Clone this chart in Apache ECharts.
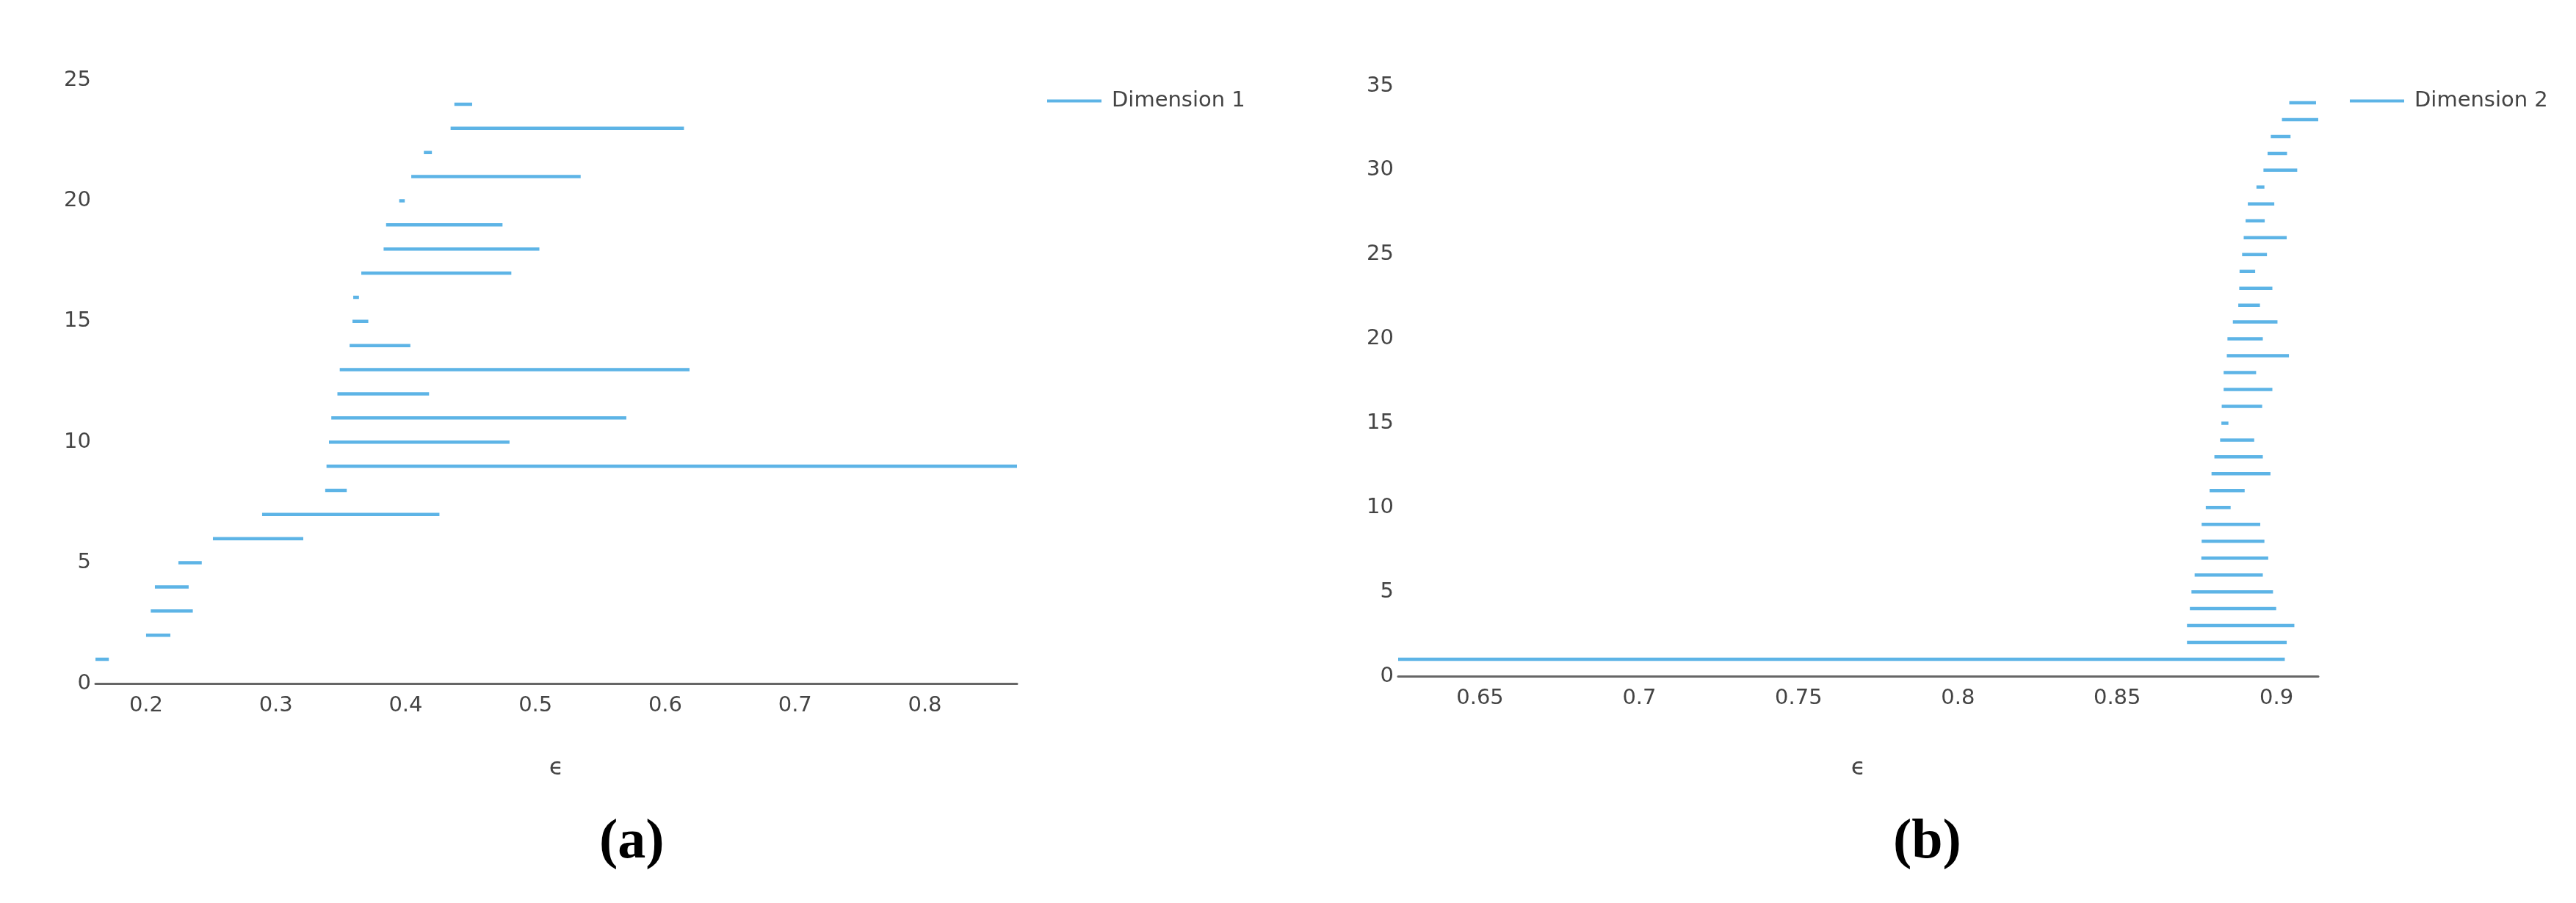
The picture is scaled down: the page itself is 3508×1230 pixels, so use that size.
<!DOCTYPE html>
<html>
<head>
<meta charset="utf-8">
<script src="https://cdn.jsdelivr.net/npm/echarts@6/dist/echarts.min.js"></script>
<style>
html,body{margin:0;padding:0;background:#fff;}
#c{width:3508px;height:1230px;}
</style>
</head>
<body>
<div id="c"></div>
<script>
// Dimension 1 (panel a): interval index, start and end of each interval
const dim1Index = [1,2,3,4,5,6,7,8,9,10,11,12,13,14,15,16,17,18,19,20,21,22,23,24];
const dim1Start = [0.161,0.2000,0.2036,0.2068,0.2249,0.2515,0.2894,0.3380,0.3390,0.3409,0.3427,0.3474,0.3492,0.3568,0.3590,0.3596,0.3658,0.3830,0.3849,0.3950,0.4043,0.4140,0.4346,0.4375];
const dim1End   = [0.1713,0.2187,0.2360,0.2328,0.2429,0.3211,0.4260,0.3546,0.871,0.4800,0.5700,0.4180,0.6187,0.4036,0.3712,0.3640,0.4814,0.5030,0.4746,0.3993,0.5348,0.4202,0.6144,0.4512];

// Dimension 2 (panel b)
const dim2Index = [1,2,3,4,5,6,7,8,9,10,11,12,13,14,15,16,17,18,19,20,21,22,23,24,25,26,27,28,29,30,31,32,33,34];
const dim2Start = [0.6243,0.8719,0.8719,0.8728,0.8733,0.8743,0.8764,0.8765,0.8765,0.8778,0.8790,0.8796,0.8805,0.8823,0.8827,0.8828,0.8834,0.8834,0.8844,0.8846,0.8863,0.8880,0.8883,0.8884,0.8892,0.8897,0.8903,0.8910,0.8937,0.8959,0.8972,0.8982,0.9017,0.9040];
const dim2End   = [0.9026,0.9032,0.9056,0.8999,0.8989,0.8957,0.8974,0.8962,0.8949,0.8856,0.8900,0.8981,0.8957,0.8930,0.8849,0.8955,0.8987,0.8936,0.9039,0.8957,0.9003,0.8948,0.8987,0.8933,0.8970,0.9032,0.8963,0.8993,0.8962,0.9065,0.9033,0.9044,0.9131,0.9124];

const axisA = {min: 0.161, max: 0.871, yMax: 25};
const axisB = {min: 0.6243, max: 0.9131, yMax: 35};

function segData(idx, s, e) {
  const out = [];
  for (let i = 0; i < idx.length; i++) {
    out.push([s[i], idx[i]], [e[i], idx[i]], '-');
  }
  return out;
}

const FONT = 'DejaVu Sans';
const TXT = '#444';
const BLUE = '#5db4e6';

function xAxis(gi, ax, split, gap) {
  return {
    type: 'value', gridIndex: gi, min: ax.min, max: ax.max, splitNumber: split,
    name: 'ϵ', nameLocation: 'middle', nameGap: gap,
    nameTextStyle: {fontFamily: FONT, fontSize: 32, color: TXT},
    axisLine: {show: true, onZero: false, lineStyle: {color: '#666', width: 3}},
    axisTick: {show: false},
    splitLine: {show: false},
    axisLabel: {fontFamily: FONT, fontSize: 29, color: TXT, margin: 16,
      showMinLabel: false, showMaxLabel: false}
  };
}
function yAxis(gi, ax) {
  return {
    type: 'value', gridIndex: gi, min: 0, max: ax.yMax, interval: 5,
    axisLine: {show: false}, axisTick: {show: false}, splitLine: {show: false},
    axisLabel: {fontFamily: FONT, fontSize: 29, color: TXT, margin: 6}
  };
}

const chart = echarts.init(document.getElementById('c'), null, {renderer: 'canvas'});
chart.setOption({
  animation: false,
  backgroundColor: '#fff',
  grid: [
    {left: 130, top: 109, width: 1255, height: 822},
    {left: 1904, top: 117, width: 1253, height: 804}
  ],
  xAxis: [xAxis(0, axisA, 7, 100), xAxis(1, axisB, 6, 110)],
  yAxis: [yAxis(0, axisA), yAxis(1, axisB)],
  legend: [
    {data: ['Dimension 1'], left: 1421, top: 118, itemWidth: 74, itemHeight: 4,
     icon: 'rect', textStyle: {fontFamily: FONT, fontSize: 29, color: TXT, padding: [0,0,0,9]}},
    {data: ['Dimension 2'], left: 3195, top: 118, itemWidth: 74, itemHeight: 4,
     icon: 'rect', textStyle: {fontFamily: FONT, fontSize: 29, color: TXT, padding: [0,0,0,9]}}
  ],
  series: [
    {name: 'Dimension 1', type: 'line', xAxisIndex: 0, yAxisIndex: 0,
     data: segData(dim1Index, dim1Start, dim1End), symbol: 'none', connectNulls: false,
     color: BLUE, lineStyle: {width: 4.5, color: BLUE}},
    {name: 'Dimension 2', type: 'line', xAxisIndex: 1, yAxisIndex: 1,
     data: segData(dim2Index, dim2Start, dim2End), symbol: 'none', connectNulls: false,
     color: BLUE, lineStyle: {width: 4.5, color: BLUE}}
  ],
  graphic: [
    {type: 'text', left: 816, top: 1110, style: {text: '(a)', font: 'bold 76px "Liberation Serif"', fill: '#000'}},
    {type: 'text', left: 2578, top: 1110, style: {text: '(b)', font: 'bold 76px "Liberation Serif"', fill: '#000'}}
  ]
});
</script>
</body>
</html>
